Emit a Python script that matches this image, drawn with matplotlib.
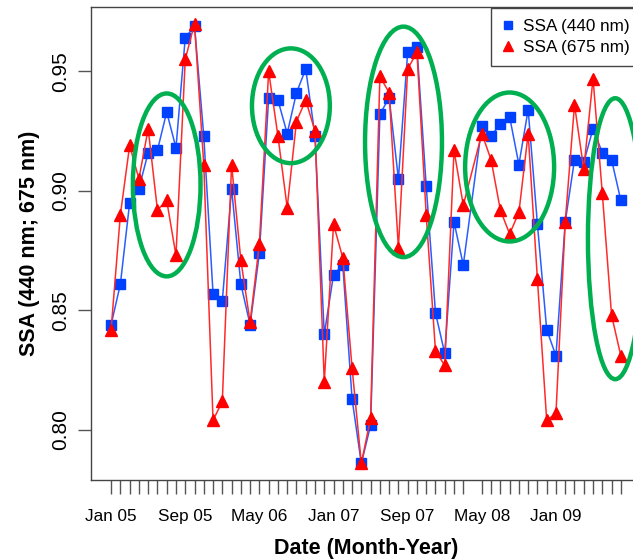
import numpy as np
import pandas as pd
import matplotlib
matplotlib.use("Agg")
import matplotlib.pyplot as plt
from matplotlib.patches import Ellipse

plt.rcParams['font.family'] = ['Liberation Sans', 'DejaVu Sans']

# monthly SSA retrievals, Jan 2005 - Aug 2009 (no data for Apr 2008)
months = pd.date_range("2005-01", "2009-08", freq="MS").drop(pd.Timestamp("2008-04-01"))

ssa_440 = [0.844, 0.861, 0.895, 0.901, 0.916, 0.917, 0.933, 0.918, 0.964, 0.969,
           0.923, 0.857, 0.854, 0.901, 0.861, 0.844, 0.874, 0.939, 0.938, 0.924,
           0.941, 0.951, 0.923, 0.840, 0.865, 0.869, 0.813, 0.786, 0.802, 0.932,
           0.939, 0.905, 0.958, 0.960, 0.902, 0.849, 0.832, 0.887, 0.869,
           0.927, 0.923, 0.928, 0.931, 0.911, 0.934, 0.886, 0.842, 0.831, 0.887,
           0.913, 0.912, 0.926, 0.916, 0.913, 0.896]
ssa_675 = [0.842, 0.890, 0.919, 0.905, 0.926, 0.892, 0.896, 0.873, 0.955, 0.970,
           0.911, 0.804, 0.812, 0.911, 0.871, 0.845, 0.878, 0.950, 0.923, 0.893,
           0.929, 0.938, 0.925, 0.820, 0.886, 0.872, 0.826, 0.786, 0.805, 0.948,
           0.941, 0.876, 0.951, 0.958, 0.890, 0.833, 0.827, 0.917, 0.894,
           0.924, 0.913, 0.892, 0.882, 0.891, 0.924, 0.863, 0.804, 0.807, 0.887,
           0.936, 0.909, 0.947, 0.899, 0.848, 0.831]

label_months = ["2005-01", "2005-09", "2006-05", "2007-01", "2007-09", "2008-05", "2009-01"]
label_text = ["Jan 05", "Sep 05", "May 06", "Jan 07", "Sep 07", "May 08", "Jan 09"]

# hand-drawn highlight ellipses: (month index, SSA, width in months, height in SSA)
highlights = [(6.0, 0.9025, 7.3, 0.0765),
              (19.4, 0.9356, 8.4, 0.048),
              (31.55, 0.9205, 8.3, 0.0964),
              (43.0, 0.910, 9.6, 0.0623),
              (54.4, 0.880, 5.9, 0.1175)]

def month_index(ts):
    return (ts.year - 2005) * 12 + ts.month - 1

x = np.array([month_index(m) for m in months])
x_lab = [month_index(pd.Timestamp(m)) for m in label_months]

fig = plt.figure(figsize=(6.33, 5.6), dpi=100)
ax = fig.add_axes([0.1433, 0.1429, 0.8697, 0.8454])

ax.plot(x, ssa_440, '-', color='#2a5cff', lw=1.1, zorder=2)
ax.plot(x, ssa_440, 's', color='#0040ff', ms=6.8, ls='none', zorder=3,
        label='SSA (440 nm)')
ax.plot(x, ssa_675, '-', color='#ff2a2a', lw=1.1, zorder=4)
ax.plot(x, ssa_675, '^', color='#ff0000', ms=8.5, ls='none', zorder=5,
        label='SSA (675 nm)')

for cx, cy, w, h in highlights:
    ax.add_patch(Ellipse((cx, cy), w, h, fill=False, edgecolor='#00b050',
                         lw=3.2, zorder=6, clip_on=False))

# R style ranges (4% padding)
ax.set_xlim(-2.2, 57.2)
ax.set_ylim(0.7791, 0.9771)

ax.set_xticks(x)
ax.set_xticklabels([label_text[x_lab.index(v)] if v in x_lab else "" for v in x],
                   fontsize=12.3)
ax.set_yticks([0.80, 0.85, 0.90, 0.95])
ax.set_yticklabels(["0.80", "0.85", "0.90", "0.95"], fontsize=15, rotation=90,
                   va='center')
ax.tick_params(axis='x', length=10, width=1, color='#555555', pad=11)
ax.tick_params(axis='y', length=9.5, width=1, color='#555555', pad=5)
for s in ax.spines.values():
    s.set_color('#444444')
    s.set_linewidth(1)

ax.set_xlabel("Date (Month-Year)", fontsize=15.5, fontweight='bold', labelpad=10)
ax.set_ylabel("SSA (440 nm; 675 nm)", fontsize=15.5, fontweight='bold', labelpad=8)

leg = ax.legend(loc='upper right', fontsize=12.3, frameon=True, fancybox=False,
                borderaxespad=0.1, handlelength=0.8, handletextpad=0.45,
                borderpad=0.6, labelspacing=0.4, markerscale=0.85)
leg.get_frame().set_edgecolor('#444444')
leg.get_frame().set_linewidth(1)
leg.get_frame().set_alpha(1)
leg.set_zorder(7)

fig.savefig("out.png", dpi=100)
